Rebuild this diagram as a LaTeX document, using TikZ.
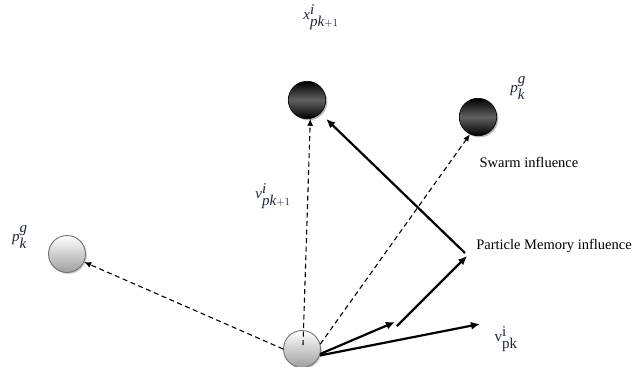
\documentclass[tikz,border=0pt]{standalone}
\usepackage{fontspec}
\setmainfont{Liberation Serif}
\usetikzlibrary{arrows.meta,shadows,calc}

\definecolor{labelink}{HTML}{1C2438}

\begin{document}
\begin{tikzpicture}[x=1pt,y=-1pt,
  darkball/.style={circle, minimum size=37.5pt, inner sep=0pt, draw=black, line width=0.6pt,
    top color=black, bottom color=black, middle color=black!62,
    drop shadow={shadow xshift=1.6pt, shadow yshift=-1.6pt, fill=black!45, opacity=0.6}},
  lightball/.style={circle, minimum size=37pt, inner sep=0pt, draw=black!55, line width=0.9pt,
    top color=white, bottom color=black!38,
    drop shadow={shadow xshift=1.4pt, shadow yshift=-1.4pt, fill=black!40, opacity=0.5}},
  dasharrow/.style={line width=1.1pt, dash pattern=on 5pt off 3.5pt,
    -{Latex[length=7pt,width=6pt]}},
  movearrow/.style={line width=2.2pt, -{Latex[length=9pt,width=8pt]}},
  mathlabel/.style={text=labelink, inner sep=0pt, font=\fontsize{15}{17}\selectfont},
  textlabel/.style={text=black, inner sep=0pt, font=\fontsize{14.5}{17}\selectfont}
]
\useasboundingbox (0,0) rectangle (633,367);

% particles
\node[lightball] (b) at (302,349) {};
\node[darkball]  (t) at (307,100) {};
\node[darkball]  (r) at (478,117) {};
\node[lightball] (l) at (67,254) {};

% labels
\node[mathlabel] (lx)  at (321,17)  {$\textit{x}^{\textit{i}}_{\textit{pk}+1}$};
\node[mathlabel] (lgr) at (518,88)  {$\textit{p}^{\textit{g}}_{\textit{k}}$};
\node[mathlabel] (lgl) at (20,237)  {$\textit{p}^{\textit{g}}_{\textit{k}}$};
\node[mathlabel] (lv1) at (273,196) {$\textit{v}^{\textit{i}}_{\textit{pk}+1}$};
\node[mathlabel] (lv)  at (506,339) {$\textrm{v}^{\textrm{i}}_{\textrm{pk}}$};
\node[textlabel] (ls)  at (529,162) {Swarm influence};
\node[textlabel] (lm)  at (554,246) {Particle Memory influence};

% vector chain points
\coordinate (m1) at (395,322);
\coordinate (m2) at (397,326);
\coordinate (m3) at (467,256);
\coordinate (m4) at (465,253);
\coordinate (v)  at (480,324);

% dashed influence lines
\draw[dasharrow] ($(b.center)+(1,-4)$) -- (t.-80);
\draw[dasharrow] (b.15) -- (r.245);
\draw[dasharrow] (b.180) -- (l.-25);

% velocity vectors
\draw[movearrow] (b.-15) -- (m1);
\draw[movearrow] (m2) -- (m3);
\draw[movearrow, shorten >=8pt] (m4) -- (t.-45);
\draw[movearrow] (b.-20) -- (v);
\end{tikzpicture}
\end{document}
